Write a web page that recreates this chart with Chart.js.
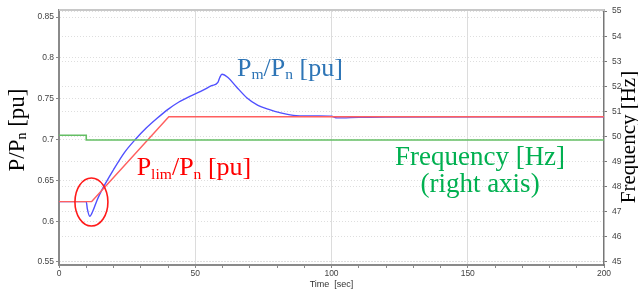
<!DOCTYPE html>
<html>
<head>
<meta charset="utf-8">
<script src="https://cdn.jsdelivr.net/npm/chart.js@4.4.1/dist/chart.umd.min.js"></script>
<style>
  html, body { margin: 0; padding: 0; background: #fff; }
  #wrap { width: 638px; height: 290px; }
</style>
</head>
<body>
<div id="wrap"><canvas id="chart" width="638" height="290"></canvas></div>
<script>
// time [sec] / value pairs
const pmTime = [0, 10, 10.4, 11.3, 12.5, 14, 15.7, 20, 24, 28, 32, 36, 40, 44, 48, 52, 56, 58.3, 59, 59.8, 62, 65, 69, 73, 77, 81, 87, 95, 100, 102, 110, 120, 200];
const pmValue = [0.624, 0.624, 0.615, 0.606, 0.613, 0.626, 0.638, 0.663, 0.684, 0.700, 0.714, 0.726, 0.737, 0.746, 0.753, 0.759, 0.766, 0.770, 0.776, 0.780, 0.776, 0.765, 0.751, 0.742, 0.737, 0.733, 0.7292, 0.7288, 0.7285, 0.7265, 0.7272, 0.7277, 0.7278];
const plimTime = [0, 12, 40.3, 200];
const plimValue = [0.624, 0.624, 0.728, 0.728];
const freqTime = [0, 10, 10, 200];
const freqValue = [50.05, 50.05, 49.86, 49.86];

const leftTicks = [0.55, 0.6, 0.65, 0.7, 0.75, 0.8, 0.85];
const rightTicks = [45, 46, 47, 48, 49, 50, 51, 52, 53, 54, 55];
const timeTicks = [0, 10, 20, 30, 40, 50, 60, 70, 80, 90, 100, 110, 120, 130, 140, 150, 160, 170, 180, 190, 200];

const toXY = (xs, ys) => xs.map((x, i) => ({ x: x, y: ys[i] }));

const tickFont = { family: "Liberation Sans", size: 8.5 };
const dotted = [1, 2];

// labels, circle and axis titles
const notes = {
  id: "notes",
  afterDatasetsDraw(chart) {
    const { ctx, chartArea, scales } = chart;
    const x = scales.x, y = scales.y, y2 = scales.y2;
    ctx.save();

    // plot box top edge
    ctx.strokeStyle = "#c8c8c8";
    ctx.lineWidth = 2;
    ctx.beginPath();
    ctx.moveTo(chartArea.left, chartArea.top);
    ctx.lineTo(chartArea.right, chartArea.top);
    ctx.stroke();

    // red circle round the dip
    ctx.strokeStyle = "#ff1a1a";
    ctx.lineWidth = 1.6;
    ctx.beginPath();
    const cx = x.getPixelForValue(11.9), cy = y.getPixelForValue(0.6235);
    const rx = x.getPixelForValue(11.9 + 6.05) - cx;
    const ry = cy - y.getPixelForValue(0.6235 + 0.0294);
    ctx.ellipse(cx, cy, rx, ry, 0, 0, Math.PI * 2);
    ctx.stroke();

    function rich(parts, px, py, size, color) {
      ctx.fillStyle = color;
      ctx.textBaseline = "alphabetic";
      ctx.textAlign = "left";
      let cur = px;
      parts.forEach(p => {
        const s = p.sub ? size * 0.6 : size;
        ctx.font = s + "px 'Liberation Serif'";
        ctx.fillText(p.t, cur, py + (p.sub ? size * 0.13 : 0));
        cur += ctx.measureText(p.t).width;
      });
    }

    rich([{ t: "P" }, { t: "m", sub: true }, { t: "/P" }, { t: "n", sub: true }, { t: " [pu]" }],
      x.getPixelForValue(65.3), y.getPixelForValue(0.778), 26, "#2e75b6");
    rich([{ t: "P" }, { t: "lim", sub: true }, { t: "/P" }, { t: "n", sub: true }, { t: " [pu]" }],
      x.getPixelForValue(28.5), y.getPixelForValue(0.656), 26, "#ff0000");

    ctx.fillStyle = "#00b050";
    ctx.font = "27px 'Liberation Serif'";
    ctx.textAlign = "center";
    ctx.fillText("Frequency [Hz]", x.getPixelForValue(154.5), y2.getPixelForValue(48.86));
    ctx.fillText("(right axis)", x.getPixelForValue(154.5), y2.getPixelForValue(47.79));

    // axis titles, both reading bottom to top
    ctx.fillStyle = "#000";
    ctx.save();
    ctx.translate(18, 130);
    ctx.rotate(-Math.PI / 2);
    ctx.textBaseline = "middle";
    ctx.textAlign = "left";
    const parts = [{ t: "P/P" }, { t: "n", sub: true }, { t: " [pu]" }];
    let w = 0;
    parts.forEach(p => { ctx.font = (p.sub ? 14 : 23) + "px 'Liberation Serif'"; w += ctx.measureText(p.t).width; });
    let cur = -w / 2;
    parts.forEach(p => {
      ctx.font = (p.sub ? 14 : 23) + "px 'Liberation Serif'";
      ctx.fillText(p.t, cur, p.sub ? 4 : 0);
      cur += ctx.measureText(p.t).width;
    });
    ctx.restore();

    ctx.save();
    ctx.translate(629, 137);
    ctx.rotate(-Math.PI / 2);
    ctx.textBaseline = "middle";
    ctx.textAlign = "center";
    ctx.font = "21px 'Liberation Serif'";
    ctx.fillText("Frequency [Hz]", 0, 0);
    ctx.restore();

    ctx.restore();
  }
};

new Chart(document.getElementById("chart"), {
  type: "line",
  data: {
    datasets: [
      {
        label: "Frequency",
        data: toXY(freqTime, freqValue),
        yAxisID: "y2",
        borderColor: "rgb(100,190,100)",
        borderWidth: 1.6,
        pointRadius: 0,
        tension: 0
      },
      {
        label: "Plim/Pn",
        data: toXY(plimTime, plimValue),
        yAxisID: "y",
        borderColor: "rgb(255,95,95)",
        borderWidth: 1.4,
        pointRadius: 0,
        tension: 0
      },
      {
        label: "Pm/Pn",
        data: toXY(pmTime, pmValue),
        yAxisID: "y",
        borderColor: "rgb(80,80,255)",
        borderWidth: 1.4,
        pointRadius: 0,
        cubicInterpolationMode: "monotone"
      }
    ]
  },
  options: {
    responsive: false,
    animation: false,
    layout: { padding: { top: 10, left: 0, right: 0, bottom: 0 } },
    plugins: { legend: { display: false }, tooltip: { enabled: false } },
    scales: {
      x: {
        type: "linear",
        min: 0,
        max: 200,
        afterBuildTicks: s => { s.ticks = timeTicks.map(v => ({ value: v })); },
        afterFit: s => { s.height = 25; },
        ticks: {
          autoSkip: false,
          maxRotation: 0,
          padding: 1,
          color: "#444",
          font: tickFont,
          callback: v => (v % 50 === 0 ? String(v) : "")
        },
        grid: {
          color: c => (c.tick && c.tick.value % 50 === 0 && c.tick.value > 0 && c.tick.value < 200 ? "#dcdcdc" : "rgba(0,0,0,0)"),
          tickColor: "#888",
          tickLength: 3,
          lineWidth: 1
        },
        border: { color: "#8a8a8a", width: 2, dash: [] },
        title: {
          display: true,
          text: "Time  [sec]",
          color: "#333",
          font: { family: "Liberation Sans", size: 9 },
          padding: { top: 0, bottom: 0 }
        }
      },
      y: {
        position: "left",
        min: 0.5463,
        max: 0.8586,
        afterBuildTicks: s => { s.ticks = leftTicks.map(v => ({ value: v })); },
        afterFit: s => { s.width = 59; },
        ticks: { padding: 2, color: "#444", font: tickFont, callback: v => String(v) },
        grid: { color: "#dedede", tickColor: "#888", tickLength: 3, lineWidth: 1 },
        border: { color: "#8a8a8a", width: 2, dash: dotted }
      },
      y2: {
        position: "right",
        min: 44.88,
        max: 55.04,
        afterBuildTicks: s => { s.ticks = rightTicks.map(v => ({ value: v })); },
        afterFit: s => { s.width = 34; },
        ticks: { padding: 5, color: "#444", font: tickFont, callback: v => String(v) },
        grid: { color: "#dedede", tickColor: "#777", tickLength: 3, lineWidth: 1 },
        border: { color: "#777", width: 1.5, dash: dotted }
      }
    }
  },
  plugins: [notes]
});
</script>
</body>
</html>
